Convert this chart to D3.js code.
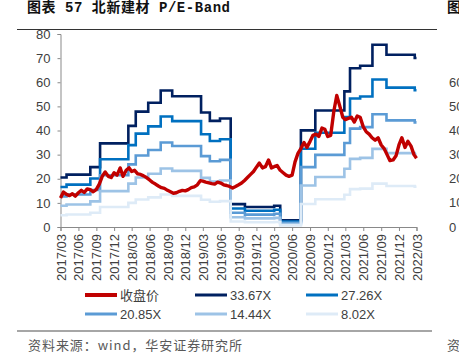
<!DOCTYPE html>
<html>
<head>
<meta charset="utf-8">
<script src="https://cdn.jsdelivr.net/npm/d3@7"></script>
<style>
  body { margin: 0; background: #fff; }
  svg { display: block; }
</style>
</head>
<body>
<svg id="chart" width="459" height="362"></svg>
<script>
// PE multiples of the bands and their legend names
const multiples = [33.67, 27.26, 20.85, 14.44, 8.02];
const bandNames = ["33.67X", "27.26X", "20.85X", "14.44X", "8.02X"];
const bandColors = ["#002060", "#0070C0", "#5B9BD5", "#9DC3E6", "#DEEBF7"];

// EPS (TTM) steps
const epsDates = ["2017-03-01", "2017-04-01", "2017-08-01", "2017-09-20", "2018-02-12", "2018-03-22",
  "2018-05-25", "2018-07-28", "2018-09-25", "2019-02-20", "2019-04-06", "2019-05-28", "2019-07-22",
  "2019-10-03", "2020-03-01", "2020-04-01", "2020-07-16", "2020-09-28", "2021-02-24", "2021-03-25",
  "2021-05-16", "2021-07-18", "2021-09-28", "2022-02-20", "2022-03-01"];
const epsValues = [0.609, 0.645, 0.737, 1.03, 1.245, 1.42,
  1.53, 1.68, 1.61, 1.41, 1.307, 1.335, 0.282,
  0.247, 0.262, 0.083, 1.19, 1.434, 1.67, 1.955,
  1.985, 2.243, 2.12, 2.08, 2.08];

// closing price
const priceDates = [
  "2017-03-01","2017-03-16","2017-04-01","2017-04-16","2017-05-01","2017-05-16","2017-06-01","2017-06-16",
  "2017-07-01","2017-07-16","2017-08-01","2017-08-16","2017-09-01","2017-09-16","2017-10-01","2017-10-16",
  "2017-11-01","2017-11-16","2017-12-01","2017-12-16",
  "2018-01-01","2018-01-16","2018-02-01","2018-02-16","2018-03-01","2018-03-16","2018-04-01","2018-04-16",
  "2018-05-01","2018-05-16","2018-06-01","2018-06-16","2018-07-01","2018-07-16","2018-08-01","2018-08-16",
  "2018-09-01","2018-09-16","2018-10-01","2018-10-16","2018-11-01","2018-11-16","2018-12-01","2018-12-16",
  "2019-01-01","2019-01-16","2019-02-01","2019-02-16","2019-03-01","2019-03-16","2019-04-01","2019-04-16",
  "2019-05-01","2019-05-16","2019-06-01","2019-06-16","2019-07-01","2019-07-16","2019-08-01","2019-08-16",
  "2019-09-01","2019-09-16","2019-10-01","2019-10-16","2019-11-01","2019-11-16","2019-12-01","2019-12-16",
  "2020-01-01","2020-01-16","2020-02-01","2020-02-16","2020-03-01","2020-03-16","2020-04-01","2020-04-16",
  "2020-05-01","2020-05-16","2020-06-01","2020-06-16","2020-07-01","2020-07-16","2020-08-01","2020-08-16",
  "2020-09-01","2020-09-16","2020-10-01","2020-10-16","2020-11-01","2020-11-16","2020-12-01","2020-12-16",
  "2021-01-01","2021-01-16","2021-02-01","2021-02-16","2021-03-01","2021-03-16","2021-04-01","2021-04-16",
  "2021-05-01","2021-05-16","2021-06-01","2021-06-16","2021-07-01","2021-07-16","2021-08-01","2021-08-16",
  "2021-09-01","2021-09-16","2021-10-01","2021-10-16","2021-11-01","2021-11-16","2021-12-01","2021-12-16",
  "2022-01-01","2022-01-16","2022-02-01","2022-02-16","2022-03-01"];
const priceValues = [
  12.0, 14.5, 13.5, 13.0, 13.8, 12.8, 14.2, 15.2, 14.3, 15.8, 15.5, 14.6, 15.6, 17.8, 21.0, 22.8,
  21.0, 20.5, 22.5, 21.5,
  24.5, 21.0, 23.5, 24.5, 23.0, 23.5, 22.0, 21.8, 21.2, 20.5, 19.5, 18.5, 17.8, 17.0, 16.3, 16.0,
  15.2, 14.6, 14.0, 14.2, 14.8, 15.2, 15.0, 15.5,
  16.3, 16.6, 17.5, 19.2, 19.0, 18.6, 18.3, 18.0, 17.8, 18.6, 18.2, 17.5, 17.2, 16.8, 16.2, 16.8,
  17.5, 18.2, 19.3, 20.5, 21.8, 23.0, 24.8, 26.5,
  24.5, 25.0, 27.8, 24.5, 25.0, 25.5, 23.5, 22.5, 21.5, 21.0, 21.5, 27.0, 30.5, 32.5, 35.0, 33.0,
  35.5, 38.0, 38.5, 37.5, 41.0, 40.5, 37.5, 38.0,
  48.0, 54.5, 50.0, 45.5, 44.5, 45.0, 45.5, 43.5, 46.0, 45.5, 41.5, 39.5, 38.5, 37.0, 36.0, 37.0,
  34.0, 32.5, 30.0, 27.5, 27.8, 29.5, 34.0, 37.0,
  33.0, 35.5, 33.5, 30.0, 28.5];

const yTicks = [0, 10, 20, 30, 40, 50, 60, 70, 80];

const parse = d3.timeParse("%Y-%m-%d");
const fmt = d3.timeFormat("%Y/%m");

const svg = d3.select("#chart");

// title and rules
svg.append("text")
  .attr("x", 27).attr("y", 12)
  .attr("textLength", 203).attr("lengthAdjust", "spacing")
  .style("font-family", "'Liberation Mono', 'Noto Sans CJK SC', monospace")
  .style("font-size", "14px").style("font-weight", "bold").style("fill", "#111")
  .text("图表 57 北新建材 P/E-Band");
svg.append("text")
  .attr("x", 447).attr("y", 12)
  .style("font-family", "'Noto Sans CJK SC'").style("font-size", "14px").style("font-weight", "bold")
  .style("fill", "#111").text("图");
svg.append("line").attr("x1", 17).attr("x2", 437).attr("y1", 29.5).attr("y2", 29.5)
  .attr("stroke", "#333").attr("stroke-width", 1);
svg.append("line").attr("x1", 17).attr("x2", 432).attr("y1", 331).attr("y2", 331)
  .attr("stroke", "#a6a6a6").attr("stroke-width", 2);
svg.append("text")
  .attr("x", 28).attr("y", 350)
  .style("font-family", "'Noto Sans CJK SC', sans-serif").style("font-size", "13px")
  .attr("textLength", 214).attr("lengthAdjust", "spacing")
  .style("fill", "#595959").text("资料来源：wind，华安证券研究所");
svg.append("text")
  .attr("x", 447).attr("y", 350)
  .style("font-family", "'Noto Sans CJK SC'").style("font-size", "13px")
  .style("fill", "#595959").text("资");

// axis labels of the neighbouring chart, cut off by the edge
svg.append("g").selectAll("text")
  .data([60, 50, 40, 30, 20, 10, 0])
  .enter().append("text")
  .attr("x", 449)
  .attr("y", d => 227 - d * 2.41 + 4.5)
  .style("font-family", "'Liberation Sans', Arial, sans-serif").style("font-size", "13px")
  .style("fill", "#404040")
  .text(d => d);

// scales
let x = d3.scaleTime()
  .domain([parse("2017-03-01"), parse("2022-03-01")])
  .range([60.5, 416.5]);
let y = d3.scaleLinear()
  .domain([0, 80])
  .range([227, 34]);

let plot = svg.append("g");

// y axis
let yAxis = plot.append("g")
  .attr("transform", "translate(60.5,0)")
  .call(d3.axisLeft(y).tickValues(yTicks).tickSize(3).tickPadding(7).tickFormat(d3.format("d")));
yAxis.select(".domain").attr("stroke", "#898989");
yAxis.selectAll(".tick line").attr("stroke", "#898989");
yAxis.selectAll("text")
  .style("font-family", "'Liberation Sans', Arial, sans-serif").style("font-size", "13px")
  .attr("fill", "#404040");

// x axis
let xTicks = d3.timeMonth.range(parse("2017-03-01"), parse("2022-03-02"), 3);
let xAxis = plot.append("g")
  .attr("transform", "translate(0,227)")
  .call(d3.axisBottom(x).tickValues(xTicks).tickSize(4).tickFormat(fmt));
xAxis.select(".domain").attr("stroke", "#898989");
xAxis.selectAll(".tick line").attr("stroke", "#898989");
xAxis.selectAll("text")
  .style("font-family", "'Liberation Sans', Arial, sans-serif").style("font-size", "13px")
  .attr("fill", "#404040")
  .attr("transform", "rotate(-90)")
  .attr("text-anchor", "end")
  .attr("x", -7).attr("y", 0).attr("dy", "0.35em");

// bands
let eps = epsDates.map((d, i) => ({ date: parse(d), eps: epsValues[i] }));
multiples.forEach((m, i) => {
  let line = d3.line()
    .curve(d3.curveStepAfter)
    .x(d => x(d.date))
    .y(d => y(d.eps * m));
  plot.append("path")
    .datum(eps)
    .attr("d", line)
    .attr("fill", "none")
    .attr("stroke", bandColors[i])
    .attr("stroke-width", 2.6);
});

// closing price
let price = priceDates.map((d, i) => ({ date: parse(d), value: priceValues[i] }));
plot.append("path")
  .datum(price)
  .attr("d", d3.line().x(d => x(d.date)).y(d => y(d.value)))
  .attr("fill", "none")
  .attr("stroke", "#C00000")
  .attr("stroke-width", 3.4)
  .attr("stroke-linejoin", "round");

// legend
let legendItems = [
  { name: "收盘价", color: "#C00000", width: 4 }
].concat(bandNames.map((n, i) => ({ name: n, color: bandColors[i], width: 3 })));
let colX = [85, 195, 306];
let rowY = [295, 314];

let legend = svg.append("g")
  .selectAll("g")
  .data(legendItems)
  .enter()
  .append("g")
  .attr("transform", (d, i) => "translate(" + colX[i % 3] + "," + rowY[Math.floor(i / 3)] + ")");
legend.append("line")
  .attr("x1", 0).attr("x2", 32)
  .attr("stroke", d => d.color)
  .attr("stroke-width", d => d.width);
legend.append("text")
  .attr("x", 35).attr("dy", "0.36em")
  .style("font-family", "'Liberation Sans', 'Noto Sans CJK SC', sans-serif").style("font-size", "13px")
  .attr("fill", "#404040")
  .text(d => d.name);
</script>
</body>
</html>
